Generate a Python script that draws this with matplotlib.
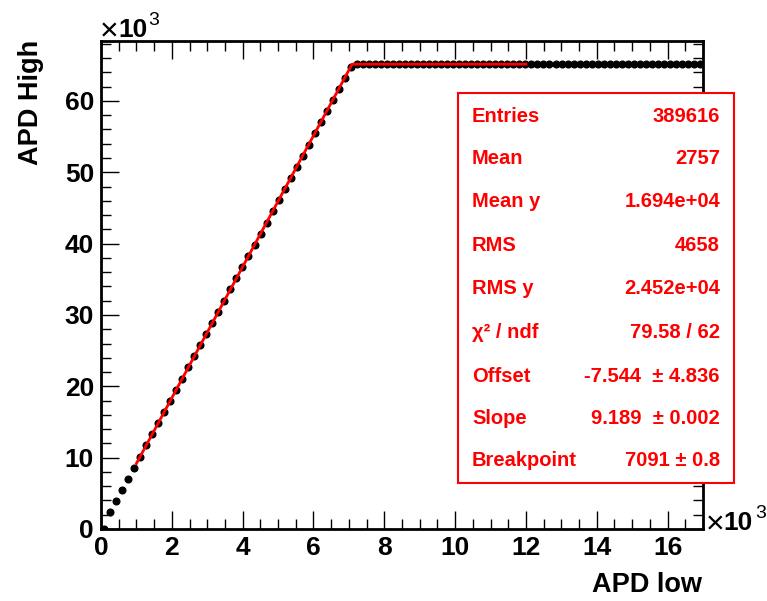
import matplotlib
matplotlib.use("Agg")
import matplotlib.pyplot as plt
from matplotlib.patches import Rectangle
from matplotlib.ticker import MultipleLocator, FuncFormatter

plt.rcParams['font.family'] = ['Liberation Sans', 'DejaVu Sans']
plt.rcParams['font.weight'] = 'bold'

# Profile points (APD low bin centres, mean APD high)
apd_low = [85 + 170 * i for i in range(100)]
apd_high = [0, 2336, 3898, 5460, 7022, 8584, 10146, 11708, 13271, 14833,
            16395, 17957, 19519, 21081, 22643, 24205, 25768, 27330, 28892, 30454,
            32016, 33578, 35140, 36702, 38265, 39827, 41389, 42951, 44513, 46075,
            47637, 49199, 50762, 52324, 53886, 55448, 57010, 58572, 60134, 61696,
            63259, 64821, 65150, 65150, 65150, 65150, 65150, 65150, 65150, 65150,
            65150, 65150, 65150, 65150, 65150, 65150, 65150, 65150, 65150, 65150,
            65150, 65150, 65150, 65150, 65150, 65150, 65150, 65150, 65150, 65150,
            65150, 65150, 65150, 65150, 65150, 65150, 65150, 65150, 65150, 65150,
            65150, 65150, 65150, 65150, 65150, 65150, 65150, 65150, 65150, 65150,
            65150, 65150, 65150, 65150, 65150, 65150, 65150, 65150, 65150, 65150]

# Fit (broken line) knots
fit_x = [1000, 7091, 12000]
fit_y = [9181, 65152, 65152]

stat_labels = ["Entries", "Mean", "Mean y", "RMS", "RMS y", "χ² / ndf",
               "Offset", "Slope", "Breakpoint"]
stat_values = ["389616", "2757", "1.694e+04", "4658", "2.452e+04", "79.58 / 62",
               "-7.544  ± 4.836", "9.189  ± 0.002", "7091 ± 0.8"]

W, H = 767, 601
fig = plt.figure(figsize=(W / 100, H / 100), dpi=100)
ax = fig.add_axes([101 / W, 1 - 529 / H, (703 - 101) / W, (529 - 41) / H])

ax.plot(apd_low, apd_high, 'o', color='black', markersize=4.8, zorder=2)
ax.plot(fit_x, fit_y, '-', color='#ff0000', linewidth=2, zorder=3)

ax.set_xlim(0, 17000)
ax.set_ylim(0, 68400)

ax.xaxis.set_major_locator(MultipleLocator(2000))
ax.xaxis.set_minor_locator(MultipleLocator(500))
ax.yaxis.set_major_locator(MultipleLocator(10000))
ax.yaxis.set_minor_locator(MultipleLocator(2000))
fmt = FuncFormatter(lambda v, p: f"{int(round(v / 1000))}")
ax.xaxis.set_major_formatter(fmt)
ax.yaxis.set_major_formatter(fmt)

ax.tick_params(which='both', direction='in', top=True, right=True, width=1)
ax.tick_params(which='major', length=13)
ax.tick_params(which='minor', length=7)
ax.tick_params(axis='x', which='major', pad=5, labelsize=19)
ax.tick_params(axis='y', which='major', pad=5, labelsize=19)
for lab in ax.get_xticklabels() + ax.get_yticklabels():
    lab.set_fontweight('bold')
for s in ax.spines.values():
    s.set_linewidth(2)


def px(x, y):
    return x / W, 1 - y / H


# Exponent annotations: "×" regular, "10" bold, superscript "3"
for (xx, x10, x3, base, base3) in [(100, 118, 148, 37, 25), (706, 723, 755, 530, 518)]:
    fig.text(*px(xx, base + 3), "×", fontsize=23, fontweight='normal',
             ha='left', va='baseline')
    fig.text(*px(x10, base), "10", fontsize=19, fontweight='bold',
             ha='left', va='baseline')
    fig.text(*px(x3, base3), "3", fontsize=14, fontweight='normal',
             ha='left', va='baseline')

# Axis titles
fig.text(*px(702, 585), "APD low", fontsize=19.5, fontweight='bold',
         ha='right', va='center')
fig.text(*px(31, 40), "APD High", fontsize=19.5, fontweight='bold',
         ha='center', va='top', rotation=90)

# Stats box
box = Rectangle(px(458, 483), (734 - 458) / W, (483 - 93) / H,
                transform=fig.transFigure, facecolor='white',
                edgecolor='#ff0000', linewidth=1.5, zorder=10)
fig.add_artist(box)
rows_y = [116, 159, 202, 245, 289, 332, 376, 418, 461]
for yy, lab, val in zip(rows_y, stat_labels, stat_values):
    fig.text(*px(472, yy), lab, color='#ff0000', fontsize=14.5,
             fontweight='bold', ha='left', va='center', zorder=11)
    fig.text(*px(720, yy), val, color='#ff0000', fontsize=14.5,
             fontweight='bold', ha='right', va='center', zorder=11)

fig.savefig("out.png", dpi=100)
